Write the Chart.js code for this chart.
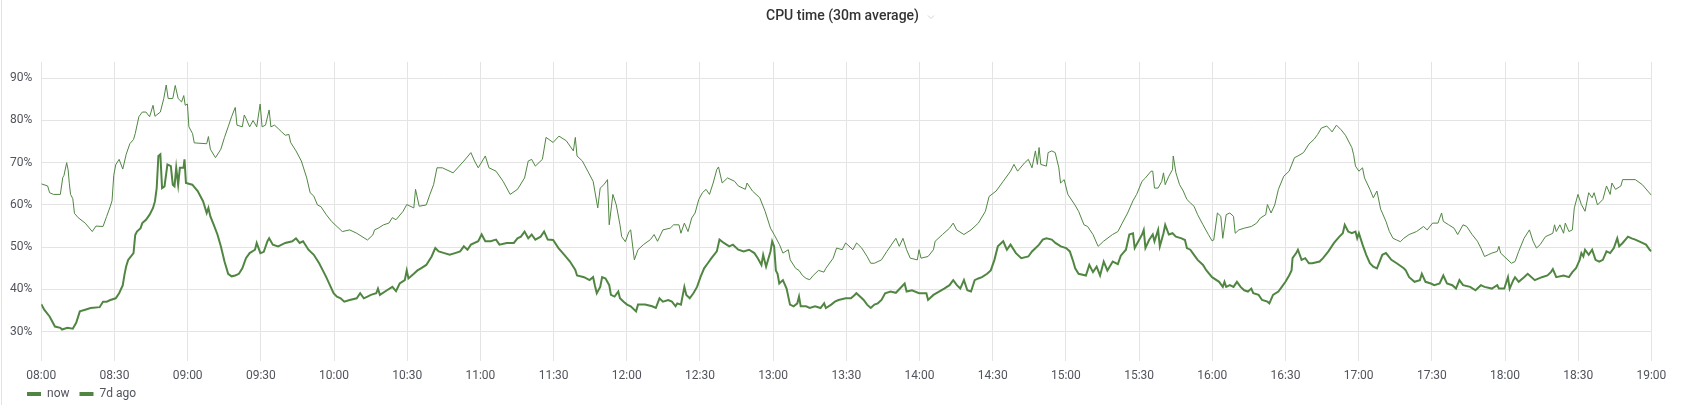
<!DOCTYPE html>
<html>
<head>
<meta charset="utf-8">
<title>CPU time (30m average)</title>
<script src="https://cdn.jsdelivr.net/npm/chart.js"></script>
<style>
  html, body { margin: 0; padding: 0; background: #fff; }
  canvas { display: block; }
</style>
</head>
<body>
<canvas id="cpuChart" width="1681" height="405"></canvas>
<script>
// minutes after 08:00, CPU %
const nowSeries = [
  [0,36.5],[1.2,35.2],[3.4,33.6],[5.6,31.2],[7.8,30.9],[8.5,30.5],[10.7,30.9],[12.9,30.7],[14.3,32.1],[15.8,34.8],
  [18,35.2],[20.2,35.6],[23.9,35.8],[25.3,37.1],[26.8,37.1],[28.3,37.5],[30.5,37.9],[31.9,39.1],[33.4,41],[34.1,43.5],
  [34.8,45.5],[35.6,47],[37.8,48.6],[38.5,52.9],[39.2,53.7],[40.7,54.5],[41.4,55.7],[42.9,56.5],[44.4,57.7],[45.8,59.3],
  [46.6,60.9],[47.3,64],[48,71.6],[48.8,72],[49.5,64],[50.5,64.4],[51.7,69.6],[53.1,69.2],[53.9,64.8],[54.6,64.4],
  [55.3,68.8],[56.1,64.8],[56.8,68.8],[58.3,68.8],[58.7,70.8],[59.3,65.2],[61.9,64.8],[64.1,63.3],[66.3,60.9],[67.8,58.1],
  [68.5,59.3],[69.3,57.3],[70.7,55.3],[72.2,53],[73.6,50.2],[75.1,46.6],[76.6,43.7],[78,43.1],[79.5,43.3],[81,43.7],
  [82.4,45],[83.9,47.4],[85.4,48.6],[87.6,49.4],[88.3,51],[89.8,48.6],[91.2,48.9],[92.7,51.4],[93.4,52.1],[94.9,50.6],
  [97.1,50.2],[100,51],[102.9,51.4],[104.4,52.1],[105.9,51],[107.3,51.4],[109.5,49.4],[111.7,48.2],[113.9,46.2],[115.4,44.5],
  [116.8,42.9],[118.3,41],[119.8,39.1],[121.2,38.3],[122.7,37.9],[124.2,37.1],[126.4,37.5],[129.3,37.9],[130.7,39.1],[132.2,37.9],
  [133.7,38.3],[135.1,38.7],[137.3,39.1],[138,40.2],[138.8,38.7],[141.7,39.8],[143.9,40.6],[145.4,39.6],[146.9,41.4],[149,42.2],
  [149.8,44.5],[150.5,42.6],[152.7,43.7],[154.2,44.5],[155.6,45],[157.8,45.8],[160,47.8],[161.5,49.8],[162.9,49],[165.2,48.6],
  [167.4,48.2],[169.6,48.6],[171.7,49],[173.2,50.2],[174.7,49.4],[176.1,50.6],[179.1,51.4],[180.5,53],[182,51.4],[184.2,51.4],
  [186.4,51.8],[187.8,50.6],[190.8,51],[193.7,51],[195.2,52.1],[196.6,52.5],[198.1,53.7],[199.6,52.1],[201,53],[202.5,51.8],
  [204.7,52.5],[206.1,53.7],[207.6,51.8],[209.8,51.7],[212,49.8],[214.4,48.2],[216.7,46.6],[218.9,44.6],[219.6,43.3],[222.5,42.9],
  [224.7,42.2],[226.2,42.9],[226.9,41],[227.7,39.1],[229.1,40.6],[229.9,42.9],[231.3,42.6],[232.8,41],[233.5,38.7],[235,38.3],
  [236.5,39.5],[237.2,37.9],[238.7,37.1],[240.1,36.4],[241.6,36],[243.8,34.8],[244.6,36.4],[247.5,36.4],[250.4,36],[251.9,35.6],
  [253.4,37.9],[254.8,37.1],[257,37.5],[258.5,37.1],[260,36],[260.7,36.7],[262.2,36.4],[263.6,40.6],[264.4,38.7],[265.8,37.9],
  [267.3,39.1],[268.8,40.6],[270.2,42.9],[271.7,45],[273.2,46.2],[274.7,47.4],[276.9,49],[278,51.8],[279.8,51],[282,50.2],
  [283.5,50.6],[285.7,49.4],[287.9,49],[290.1,49.4],[292.3,48.6],[293.7,47.4],[295.2,45.8],[295.9,48.2],[297.1,45.4],[298.1,47.4],
  [298.9,49],[299.6,51.4],[300.4,50.2],[301.1,44.5],[301.8,43.7],[302.5,41.4],[304,42.2],[305.5,40.2],[306.2,38.3],[306.9,36.4],
  [308.4,36],[309.9,36.7],[310.6,38.3],[311.3,36],[313.5,36],[315,35.6],[317.2,36],[319.4,35.6],[320.9,36.7],[321.6,35.6],
  [323.8,36.4],[325.3,37.1],[326.8,37.5],[329.7,37.9],[331.9,37.9],[333.4,38.7],[334.1,39.1],[335.6,38.3],[337.1,37.5],[338.5,36.4],
  [340,35.6],[341.5,36.4],[342.9,36.7],[344.4,37.5],[345.9,39.1],[348.1,39.5],[350.3,39.2],[353.9,41.4],[354.7,39.5],[356.9,39.8],
  [359.8,39.1],[362.8,39.1],[363.5,37.5],[365.7,38.7],[368,39.5],[370.1,40.2],[372.3,41],[373.8,42.2],[375.3,41],[376.7,40.2],
  [378.2,42.2],[379.6,39.8],[381.1,39.5],[382.6,42.2],[384.1,42.6],[385.6,42.9],[387.7,43.7],[389.2,44.5],[390.7,47],[392.1,50.2],
  [394.3,51.4],[395.8,49.4],[397.3,50.6],[399.5,48.6],[401.7,47.4],[404.6,47.8],[406.1,49],[409,50.6],[410.5,51.8],[412,52.1],
  [414.2,51.8],[415.7,51],[417.9,50.2],[420.1,49.8],[421.6,49],[423,46.6],[423.8,45],[425.2,43.7],[428.2,43.3],[429.6,45.8],
  [431.1,44.1],[432.6,45.4],[434,43.3],[435.5,46.6],[437,44.5],[439.2,46.6],[441.3,46],[442.5,48],[444.6,49.4],[446,53],
  [447.5,53.3],[448.2,49.8],[449.7,51.4],[451.2,53],[451.9,54.1],[452.6,49.8],[454.1,51.7],[455.6,53],[456.3,51.4],[457.8,54.1],
  [458.5,50.2],[460,53.3],[460.7,55.3],[462.2,53],[463.7,53.3],[465.1,52.5],[467.4,52.1],[468.8,51.7],[469.6,49.8],[471,49.4],
  [472.5,48.2],[474,47],[476.2,45.8],[477.6,44.5],[479.9,42.9],[482.8,41.8],[484.3,40.6],[485,41.8],[485.7,40.6],[487.2,41],
  [488.7,40.6],[490.1,41.8],[491.6,40.6],[493.1,39.8],[494.6,39.5],[496,40.2],[496.8,39.1],[499,38.7],[500.4,37.5],[502.6,37.1],
  [503.4,36.7],[504.9,38.7],[507.1,39.5],[508.5,40.6],[510,41.8],[511.5,43.3],[512.5,44.5],[512.9,47.4],[514.4,48.6],[515.1,49.4],
  [516.6,47],[518.1,47.4],[519.6,46.2],[521,46.2],[524,46.6],[525.4,47.4],[527.6,49],[529.9,51],[532.1,52.5],[533.5,53.3],
  [534.3,55.3],[535.7,53.7],[537.2,53.3],[538.7,53.7],[539.4,52.1],[540.1,53.3],[541.6,50.6],[543.1,48.2],[544.6,46.2],[546,45.4],
  [547.5,45],[549.7,48.2],[551.2,48.6],[553.4,47],[555.6,46.2],[558.5,45],[559.3,44.5],[560.7,42.9],[562.9,41.8],[565.1,42.2],
  [565.9,43.7],[567.4,41.8],[569.6,41.4],[571,41],[573.2,41.4],[574.7,43.3],[576.2,41.4],[578.4,41],[579.9,40.2],[581.3,42.2],
  [582.8,41],[585.7,40.6],[587.9,39.8],[590.1,41],[591.6,40.6],[594.6,40.2],[596.8,41],[597.5,40.2],[599.7,40.2],[601.2,42.9],
  [601.9,40.2],[603.4,42.2],[604.1,42.9],[605.6,41.8],[607.8,42.9],[609.3,43.7],[612.2,42.2],[615.1,42.9],[617.4,43.3],[618.8,44.1],
  [619.6,44.8],[621,42.9],[624,43.3],[626.2,42.9],[627.6,44.1],[629.1,45],[630.6,47],[631.3,48.6],[632.1,47.8],[632.8,49.4],
  [634.3,48.2],[635.7,49.4],[637.1,47],[638.6,46.6],[640.1,47],[641.6,49],[643.1,48.6],[644.6,49.8],[646,52.1],[646.8,50.2],
  [648.2,51],[650.4,52.5],[651.9,52.1],[653.4,51.8],[656.3,51],[657.8,50.6],[659.3,49.4],[660,49]
];

const weekAgoSeries = [
  [0,65],[2.6,64.5],[3.4,62.9],[5,62.5],[7.8,62.5],[8.8,66.5],[9.3,67],[10.4,70],[11,68.3],[11.5,65],
  [12,62.5],[12.9,61.5],[13.6,58],[15.1,57],[18,55.7],[20.9,53.7],[22.4,55],[25.3,54.9],[26.8,57.3],[28.3,59.7],
  [29,61],[29.7,67],[30.5,69.5],[31.9,70.8],[33.4,68.5],[34.8,72],[36.3,74.5],[37.8,75.5],[38.5,76.9],[40,80.9],
  [41.4,82],[42.9,82],[44.4,80.9],[45.8,83.6],[46.6,81],[48.8,82],[50.2,85.2],[51.2,88.4],[52,85.2],[53.9,85.2],
  [54.9,88.3],[56.1,85.2],[57.5,84.4],[58.4,85.9],[59,83.6],[59.9,83.9],[60.5,78.5],[62,76.9],[62.7,74.7],[67.8,74.5],
  [68.5,76.2],[69.3,73.2],[71.4,71.2],[73.6,73.2],[75.1,76],[76.6,78.5],[78,80.9],[79.5,83.1],[80.2,78.9],[82.4,78.5],
  [83.2,81.3],[83.9,80.5],[85.4,78.5],[86.8,80],[88.3,78.5],[89.7,83.9],[90.5,78.5],[91.9,78.9],[93.4,82.5],[94.1,78.5],
  [95.6,78.9],[97.1,78.1],[98.5,77.3],[100,76.5],[101.5,76.7],[102.2,74.8],[104.4,72.8],[106.6,70.4],[108.8,66.4],[110.2,62.9],
  [111.7,62.1],[113.2,60],[114.6,59.6],[116.8,57.7],[119,56.1],[123.4,53.7],[126.4,54.1],[129.3,53.3],[133.7,51.7],[135.9,52.9],
  [136.6,54.1],[138.1,54.5],[140.3,55.3],[142.5,55.7],[143.9,57],[145.4,56.5],[148.3,58.5],[149.8,60.1],[152.7,59.3],[153.4,63.7],
  [154.9,59.7],[157.8,60],[159.3,62.5],[160.8,64.8],[162.2,68.8],[164.4,68.8],[168.8,67.6],[173.2,70.4],[176.1,72.4],[177.6,70.4],
  [179.1,68.8],[182,71.6],[183.5,68.8],[186.4,68],[189.3,65.6],[192.2,62.5],[195.2,63.7],[198.1,66.4],[199.6,70.4],[201,70.8],
  [202.5,69.2],[205.4,70.8],[206.9,76],[209.8,74.8],[212.2,76.3],[215.2,75.2],[218.1,72.8],[218.9,76],[219.6,71.6],[221.8,70.4],
  [224,68],[226.2,65.6],[228.1,59.3],[229.1,64],[230.6,64.8],[232.1,66],[232.8,55.3],[234.3,62.5],[235.7,60],[237.2,55.3],
  [237.9,52.5],[239.4,51.3],[240.9,53.7],[241.6,54.1],[243.1,47],[244.6,49.4],[246.8,50.6],[249.7,51.8],[251.2,53],[252.6,51.4],
  [254.8,54.1],[257.8,54.5],[259.2,55.3],[261.4,55.3],[262.2,53.3],[263.6,55.7],[265.1,53.7],[266.6,56.9],[268,58.1],[269.5,61.3],
  [271,62.9],[272.5,63.7],[273.9,62.5],[275.4,65.2],[276.9,68.4],[277.6,69],[279.1,65.2],[281.3,66.4],[284.2,65.6],[285.7,64.5],
  [288.6,63.7],[289.3,65.2],[291.5,63.3],[294.5,61.7],[296.7,58.5],[298.9,54.5],[300.4,53],[302.6,50.6],[304,48.6],[306.2,49.4],
  [307,47],[309.2,45],[310.6,44.5],[312,43.3],[313.5,42.6],[315,42.3],[316.4,43.3],[318.6,44.5],[320.8,44.1],[321.6,45],
  [324.6,47.4],[326,49.8],[328.3,49.4],[329.7,51],[332.7,49.4],[334.2,51],[336.3,49.8],[338.5,47.8],[340,46.2],[341.5,46.2],
  [344.4,47],[346.6,49],[350.3,52.1],[351.7,50.2],[353.2,52.1],[354.7,49.4],[356.2,47.4],[359.1,47],[359.8,49.4],[360.6,47.4],
  [363.5,47.8],[365.7,49.4],[366.4,51.4],[369.4,53],[372.3,54.5],[373.8,55.7],[375.2,54.1],[378.2,53],[381.1,54.1],[384.1,55.7],
  [387,58.5],[388.5,62],[391.4,63.3],[394.3,65.6],[397.3,68],[398.7,69.6],[400.2,68],[403.1,70],[404.6,70.8],[406.1,68.8],
  [407.5,72.8],[408.3,69.6],[409,73.6],[409.7,69.6],[412,69.2],[412.7,72.4],[414.2,72.8],[415.6,72.4],[417.1,68.8],[417.8,65.2],
  [419.3,66],[420.8,62.5],[423.7,60],[425.2,58.5],[427.4,55.3],[428.9,54.9],[431.1,53],[433.2,50.2],[435.4,51.4],[439.1,53],
  [441.3,53.7],[443.1,55.7],[445.3,58.1],[447.5,61],[449,62.5],[451.2,65.6],[452.6,66.4],[454.9,68],[455.6,68],[456.3,64],
  [457.8,64],[459.3,65.6],[460,67.6],[460.7,64.8],[462.2,66.8],[463.7,68.4],[464,71.6],[465.1,67.6],[466.6,64.8],[468.1,63.3],
  [469.6,61.3],[471,60.5],[472.5,59.7],[474,57.7],[476.2,55.3],[478.4,53],[479.9,51.5],[480.6,51.7],[482.1,58.1],[483.5,57.3],
  [484.3,52.1],[485.7,57.7],[487.2,58.1],[488.7,57.3],[489.4,53.3],[490.9,54.1],[493.1,54.5],[496,54.9],[498.2,55.7],[499.7,56.9],
  [501.9,57.7],[502.6,60.1],[504.1,58.1],[505.6,60],[507.1,63.7],[509.3,66.8],[511.5,68],[513.7,71.2],[515.1,71.6],[517.4,72.4],
  [519.6,74.4],[521.8,75.6],[523.2,76.7],[524.7,78.2],[526.9,78.7],[528.4,77.8],[529.1,77.3],[530.9,78.9],[532.8,77.8],[534.6,76.5],
  [537.2,73.6],[537.9,72],[538.7,69.2],[540.1,68],[541.6,68.8],[542.4,66.4],[544.6,63.7],[546,61.7],[547.5,63.3],[549,59],
  [549.7,58.1],[551.2,56.1],[552.6,53.7],[554.1,52.1],[555.6,51.7],[557.1,51.3],[558.5,52.1],[560.7,53],[563.7,53.7],[566.6,54.9],
  [568.1,54.1],[570.3,55.7],[572.5,55.7],[574,58.1],[574.7,56.1],[576.9,55.3],[579.1,54.5],[580.6,53],[582.8,55.3],[584.3,54.9],
  [586.5,53],[588.7,51.4],[590.1,49.8],[591.6,47.8],[593.1,48.2],[594.6,48.6],[596.8,49],[597.5,50.2],[598.2,48.6],[600.4,47.4],
  [602.6,46.2],[604.1,46.6],[605.6,49],[607.8,52.1],[610,54.1],[611.5,51.4],[612.9,49.8],[614.4,50.6],[616.6,52.5],[619.6,53.3],
  [620.3,55.3],[621,53.7],[622.5,55.3],[624,53.3],[624.7,55.7],[626.2,53.7],[627.6,54.1],[628.4,59.3],[629.9,62.5],[631.3,60.1],
  [632.8,58.5],[634.3,62.9],[635.7,61.7],[636.5,62.9],[637.9,60],[640.1,61.3],[641.6,64.5],[643.1,62.5],[643.8,65.2],[645.3,63.7],
  [647.5,64.5],[648.2,66],[650.4,66],[653.4,66],[656.3,64.8],[658.5,63.3],[660,62.3]
];

const timeTicks = ['08:00','08:30','09:00','09:30','10:00','10:30','11:00','11:30','12:00','12:30','13:00','13:30',
  '14:00','14:30','15:00','15:30','16:00','16:30','17:00','17:30','18:00','18:30','19:00'];
const percentTicks = [30, 40, 50, 60, 70, 80, 90];

const green = '#508642';
const textColor = '#52545c';
const gridColor = '#e4e4e4';

Chart.defaults.font.family = 'Roboto, "Helvetica Neue", Arial, sans-serif';
Chart.defaults.font.size = 12;
Chart.defaults.color = textColor;

const toPoints = s => s.map(p => ({ x: p[0], y: p[1] }));

// nudge title / legend to where the panel has them, give x labels room (they are clipped to the axis box)
const panelLayout = {
  id: 'panelLayout',
  afterLayout(chart) {
    const x = chart.scales.x;
    x.bottom = x.top + 24;
    chart.titleBlock.left += 14;
    chart.legend.left += 17;
    chart.legend.top += 5;
    chart.legend.bottom += 5;
  }
};

// panel border on the left and the little chevron next to the title
const panelDecor = {
  id: 'panelDecor',
  afterDraw(chart) {
    const ctx = chart.ctx;
    const tb = chart.titleBlock;
    ctx.save();
    ctx.strokeStyle = '#e3e3e3';
    ctx.lineWidth = 1;
    ctx.beginPath();
    ctx.moveTo(1.5, 0);
    ctx.lineTo(1.5, chart.height);
    ctx.stroke();
    ctx.font = '500 14px Roboto';
    const w = ctx.measureText(chart.options.plugins.title.text).width;
    const cx = (tb.left + tb.right) / 2 + w / 2 + 12;
    ctx.strokeStyle = '#d0d4d9';
    ctx.beginPath();
    ctx.moveTo(cx - 3, 15.5);
    ctx.lineTo(cx, 18.5);
    ctx.lineTo(cx + 3, 15.5);
    ctx.stroke();
    ctx.restore();
  }
};

new Chart(document.getElementById('cpuChart'), {
  type: 'line',
  data: {
    datasets: [
      {
        label: 'now',
        data: toPoints(nowSeries),
        borderColor: green,
        backgroundColor: green,
        borderWidth: 2,
        pointRadius: 0,
        tension: 0,
        fill: false
      },
      {
        label: '7d ago',
        data: toPoints(weekAgoSeries),
        borderColor: green,
        backgroundColor: green,
        borderWidth: 1,
        pointRadius: 0,
        tension: 0,
        fill: false
      }
    ]
  },
  options: {
    responsive: false,
    animation: false,
    devicePixelRatio: 1,
    layout: { padding: { left: 0, right: 10, top: 0, bottom: 0 } },
    plugins: {
      title: {
        display: true,
        text: 'CPU time (30m average)',
        color: '#333',
        font: { size: 14, weight: '500' },
        padding: { top: 8, bottom: 37 }
      },
      legend: {
        position: 'bottom',
        align: 'start',
        labels: {
          boxWidth: 14,
          boxHeight: 4,
          padding: 10,
          color: textColor,
          font: { size: 12 },
          generateLabels: chart => Chart.defaults.plugins.legend.labels.generateLabels(chart)
            .map(l => Object.assign(l, { lineWidth: 0 }))
        }
      },
      tooltip: { enabled: false }
    },
    scales: {
      x: {
        type: 'linear',
        min: 0,
        max: 660,
        afterBuildTicks: s => { s.ticks = timeTicks.map((t, i) => ({ value: i * 30 })); },
        afterFit: s => { s.height = 12; },
        ticks: {
          callback: (v) => timeTicks[Math.round(v / 30)],
          maxRotation: 0,
          autoSkip: false,
          padding: 8
        },
        grid: { color: gridColor, drawTicks: false },
        border: { display: false }
      },
      y: {
        min: 23.05,
        max: 93.9,
        afterBuildTicks: s => { s.ticks = percentTicks.map(v => ({ value: v })); },
        afterFit: s => { s.width = 41.3; },
        ticks: {
          callback: v => v + '%',
          padding: 9
        },
        grid: { color: gridColor, drawTicks: false },
        border: { display: false }
      },
      yRight: {
        position: 'right',
        display: true,
        grid: { display: false },
        ticks: { display: false },
        border: { display: false },
        afterFit: s => { s.width = 19.6; }
      }
    }
  },
  plugins: [panelLayout, panelDecor]
});
</script>
</body>
</html>
